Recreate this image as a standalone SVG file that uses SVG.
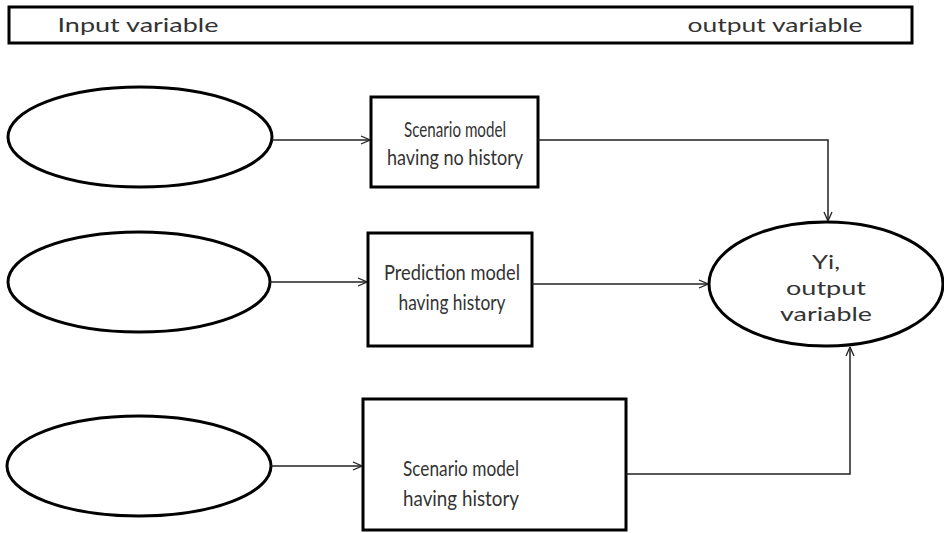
<svg xmlns="http://www.w3.org/2000/svg" width="944" height="533" viewBox="0 0 944 533">
<defs>
<marker id="arr" viewBox="0 0 10 10" refX="10" refY="5" markerWidth="10" markerHeight="10" markerUnits="userSpaceOnUse" orient="auto">
<path d="M1,1 L10,5 L1,9" fill="none" stroke="#222" stroke-width="1.3"/>
</marker>
<style>
.shape{fill:#fff;stroke:#000;stroke-width:3}
.t{font-family:Lato,"Open Sans","Liberation Sans",sans-serif;fill:#333;text-anchor:middle}
.b{font-size:22px}
.conn{fill:none;stroke:#222;stroke-width:1.5;marker-end:url(#arr)}
</style>
</defs>
<rect width="944" height="533" fill="#fff"/>
<g id="header">
<rect class="shape" x="9" y="7" width="903" height="36"/>
<text class="t" x="138" y="32" font-size="20" textLength="161" lengthAdjust="spacingAndGlyphs">Input variable</text>
<text class="t" x="775" y="32" font-size="20" textLength="175" lengthAdjust="spacingAndGlyphs">output variable</text>
</g>
<g id="in1"><ellipse class="shape" cx="140" cy="137" rx="132" ry="50"/></g>
<g id="in2"><ellipse class="shape" cx="139" cy="282" rx="131" ry="50"/></g>
<g id="in3"><ellipse class="shape" cx="139" cy="466" rx="132" ry="50"/></g>
<g id="box1">
<rect class="shape" x="371" y="97" width="167" height="90"/>
<text class="t b" x="455" y="137" textLength="102" lengthAdjust="spacingAndGlyphs">Scenario model</text>
<text class="t b" x="455" y="165" textLength="136" lengthAdjust="spacingAndGlyphs">having no history</text>
</g>
<g id="box2">
<rect class="shape" x="368" y="233" width="164" height="113"/>
<text class="t b" x="452" y="280" textLength="136" lengthAdjust="spacingAndGlyphs">Prediction model</text>
<text class="t b" x="452" y="310" textLength="107" lengthAdjust="spacingAndGlyphs">having history</text>
</g>
<g id="box3">
<rect class="shape" x="363" y="399" width="263" height="131"/>
<text class="t b" x="461" y="476" textLength="116" lengthAdjust="spacingAndGlyphs">Scenario model</text>
<text class="t b" x="461" y="506" textLength="116" lengthAdjust="spacingAndGlyphs">having  history</text>
</g>
<g id="out">
<ellipse class="shape" cx="826" cy="284" rx="117" ry="62"/>
<text class="t" x="826" y="269" font-size="20" textLength="28" lengthAdjust="spacingAndGlyphs">Yi,</text>
<text class="t" x="826" y="295" font-size="20" textLength="80" lengthAdjust="spacingAndGlyphs">output</text>
<text class="t" x="826" y="321" font-size="20" textLength="92" lengthAdjust="spacingAndGlyphs">variable</text>
</g>
<g id="connectors">
<path class="conn" d="M272,140 H370"/>
<path class="conn" d="M538,140 H828 V221"/>
<path class="conn" d="M270,282 H367"/>
<path class="conn" d="M532,284 H708"/>
<path class="conn" d="M271,466 H362"/>
<path class="conn" d="M626,474 H850 V347"/>
</g>
</svg>
